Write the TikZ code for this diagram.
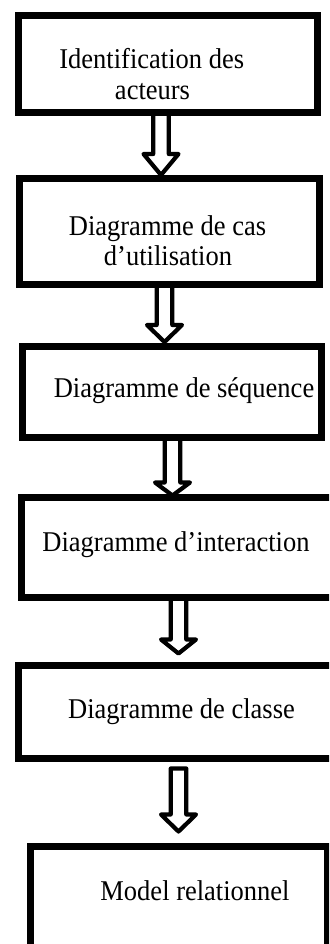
\documentclass[tikz,border=0pt]{standalone}
\usepackage{fontspec}
\setmainfont{Liberation Serif}
\usetikzlibrary{calc}
\pgfdeclarelayer{bg}
\pgfsetlayers{bg,main}
\tikzset{
  box/.style={draw, line width=7pt, rectangle, inner sep=0pt, outer sep=0pt},
  lbl/.style={anchor=base, inner sep=0pt, font=\fontsize{26.5}{30}\selectfont},
  blk/.style={draw, line width=4.2pt, line join=round, fill=white},
}
\newcommand{\tallt}[1]{\scalebox{1}[1.08]{#1}}
% from node, to node, centre x, shaft top offset, tip offset, head length
\newcommand{\blockarr}[6]{%
  \draw[blk] let \p1=(#1.south), \p2=(#2.north) in
    ({#3pt-7.8pt},{\y1-#4pt}) -- ({#3pt-7.8pt},{\y2+#5pt+#6pt}) --
    ({#3pt-17.5pt},{\y2+#5pt+#6pt}) -- ({#3pt},{\y2+#5pt}) --
    ({#3pt+17.5pt},{\y2+#5pt+#6pt}) -- ({#3pt+7.8pt},{\y2+#5pt+#6pt}) --
    ({#3pt+7.8pt},{\y1-#4pt}) -- cycle;}
\begin{document}
\begin{tikzpicture}[x=1pt, y=-1pt]
  \useasboundingbox (0,0) rectangle (329,944);
  \clip (0,0) rectangle (329,944);

  \node[box, minimum width=299pt, minimum height=97pt] (b1) at (167.5,64) {};
  \node[box, minimum width=300pt, minimum height=105pt] (b2) at (169,231.5) {};
  \node[box, minimum width=298.5pt, minimum height=91.5pt] (b3) at (171.75,391.75) {};
  \node[box, minimum width=313.5pt, minimum height=99.5pt] (b4) at (178.25,547.25) {};
  \node[box, minimum width=316.5pt, minimum height=93pt] (b5) at (176.75,712) {};
  \node[box, minimum width=297pt, minimum height=108.5pt] (b6) at (178.5,900.75) {};

  \node[lbl] (t1a) at (151.7,69) {\tallt{Identification des}};
  \node[lbl] (t1b) at (152.5,100) {\tallt{acteurs}};
  \node[lbl] (t2a) at (167.5,235) {\tallt{Diagramme de cas}};
  \node[lbl] (t2b) at (168,265) {\tallt{d’utilisation}};
  \node[lbl] (t3) at (184,397) {\tallt{Diagramme de séquence}};
  \node[lbl] (t4) at (176,551.5) {\tallt{Diagramme d’interaction}};
  \node[lbl] (t5) at (181.5,718) {\tallt{Diagramme de classe}};
  \node[lbl] (t6) at (195,900) {\tallt{Model relationnel}};

  \begin{pgfonlayer}{bg}
    \fill[white] (0,0) rectangle (329,944);
    \blockarr{b1}{b2}{161}{0}{4}{21}
    \blockarr{b2}{b3}{164.5}{0}{4}{17}
    \blockarr{b3}{b4}{172.5}{0}{2}{13}
    \blockarr{b4}{b5}{178.5}{0}{12}{14}
    \blockarr{b5}{b6}{178.5}{10}{15}{17}
  \end{pgfonlayer}
\end{tikzpicture}
\end{document}
